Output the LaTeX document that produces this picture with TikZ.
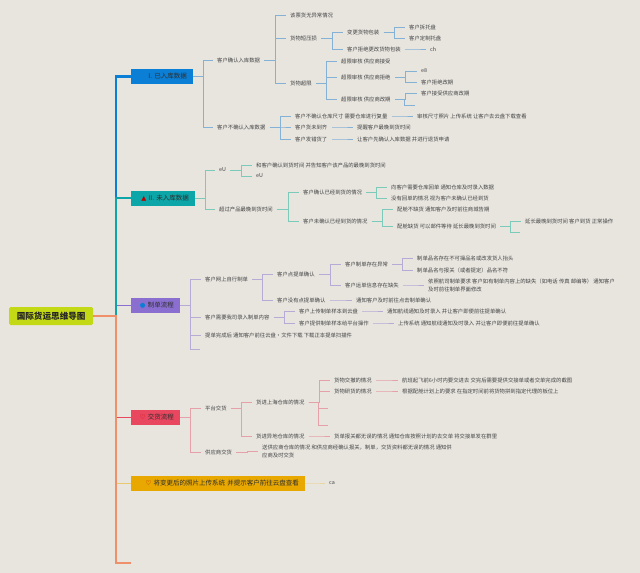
\documentclass[tikz,border=0pt]{standalone}
\usepackage{fontspec}
\setmainfont{Noto Sans CJK SC}
\newfontfamily\symf{DejaVu Sans}
\usetikzlibrary{calc}
\definecolor{bgc}{HTML}{E8E5DF}
\definecolor{txc}{HTML}{444444}
\definecolor{cblue}{HTML}{0B7FD6}
\definecolor{cteal}{HTML}{0CA5A8}
\definecolor{cpur}{HTML}{8A6FD0}
\definecolor{cred}{HTML}{E8475F}
\definecolor{cyel}{HTML}{E8A800}
\definecolor{corg}{HTML}{F0906A}
\definecolor{croot}{HTML}{C4D916}
\definecolor{lblue}{HTML}{84B2D6}
\definecolor{lteal}{HTML}{7CCAB9}
\definecolor{lpur}{HTML}{B6ABD6}
\definecolor{lred}{HTML}{E6A0A9}
\definecolor{lyel}{HTML}{E8D7A0}
\tikzset{
  tx/.style={anchor=west,xshift=-4pt,inner xsep=4pt,inner ysep=1pt,text=txc,font=\fontsize{5.35}{8}\selectfont,align=left},
  bx/.style={anchor=east,inner xsep=6pt,inner ysep=0pt,minimum height=15pt,align=right,text=black!82,font=\fontsize{6.5}{8}\selectfont},
  ln/.style={line width=.8pt},
  trunk/.style={line width=2.8pt,line join=miter},
  thinbr/.style={line width=1pt}
}
\newcommand\conn[3]{\draw[ln,#1] let \p1=(#2.east),\p2=(#3.west) in (\p1) -- ({(\x1+\x2)/2},\y1) -- ({(\x1+\x2)/2},\y2) -- (\p2);}
\newcommand\connf[3]{\draw[ln,#1] let \p1=(#2.east),\p2=(#3) in (\p1) -- ({(\x1+\x2)/2},\y1) -- ({(\x1+\x2)/2},\y2) -- (\p2);}
\newcommand\tn[4]{\node[tx] (#1) at (#2,#3) {#4};}
\begin{document}
\begin{tikzpicture}[x=1pt,y=-1pt]
\useasboundingbox (0,0) rectangle (640,573);
\fill[bgc] (0,0) rectangle (640,573);
% main boxes
\node[anchor=west,fill=croot,rounded corners=1.5pt,minimum width=84pt,minimum height=18pt,inner sep=0pt,text=black!85,font=\fontsize{8.6}{10}\selectfont\bfseries] (root) at (9,316) {国际货运思维导图};
\node[bx,fill=cblue,text width=50pt] (b1) at (193,76.5) {I. 已入库数据};
\node[bx,fill=cteal,text width=52pt] (b2) at (195,198) {{\symf\textcolor{red!75!black}{▲}} II. 未入库数据};
\node[bx,fill=cpur,text width=37pt] (b3) at (180,305) {{\symf\textcolor{cblue}{●}} 制单流程};
\node[bx,fill=cred,text width=37pt] (b4) at (180,417) {{\symf\textcolor{red!80!black}{♡}} 交货流程};
\node[bx,fill=cyel,text width=162pt] (b5) at (305,483) {{\symf\textcolor{red!70!black}{♡}} 将变更后的照片上传系统 并提示客户前往云盘查看};
\coordinate (stub) at (131,563);
% trunk
\draw[thinbr,cpur] (root.east) -- (116,316) |- (b3.west);
\draw[trunk,cblue] (root.east) -- (116,316) |- (b1.west);
\draw[trunk,cteal] (root.east) -- (116,316) |- (b2.west);
\draw[thinbr,cred] (root.east) -- (116,316) |- (b4.west);
\draw[thinbr,lyel!70!cyel] (root.east) -- (116,316) |- (b5.west);
\draw[trunk,corg] (root.east) -- (116,316) |- (stub);
% section 1
\tn{a1}{217}{60}{客户确认入库数据}
\tn{a2}{217}{127}{客户不确认入库数据}
\tn{a11}{290}{15}{该票货无异常情况}
\tn{a12}{290}{38}{货物短压损}
\tn{a13}{290}{83}{货物超限}
\tn{a121}{347}{32}{变更货物包装}
\tn{a122}{347}{49}{客户拒绝更改货物包装}
\tn{a1211}{409}{27}{客户拆托盘}
\tn{a1212}{409}{38}{客户定制托盘}
\tn{a1221}{430}{49}{ch}
\tn{a131}{341}{61}{超限审核 供应商接受}
\tn{a132}{341}{77}{超限审核 供应商拒绝}
\tn{a133}{341}{99}{超限审核 供应商改期}
\tn{a1321}{421}{71}{e8}
\tn{a1322}{421}{82}{客户拒绝改期}
\tn{a1331}{421}{93}{客户接受供应商改期}
\coordinate (a1332) at (415,105);
\tn{a21}{295}{116}{客户不确认仓库尺寸 需要仓库进行复量}
\tn{a22}{295}{127}{客户货未到齐}
\tn{a23}{295}{139}{客户发错货了}
\tn{a211}{417}{116}{审核尺寸照片 上传系统 让客户去云盘下载查看}
\tn{a221}{357}{127}{提醒客户最晚到货时间}
\tn{a231}{357}{139}{让客户先确认入库数据 并进行退货申请}
\foreach \pa/\ch in {b1/a1,b1/a2,a1/a11,a1/a12,a1/a13,a12/a121,a12/a122,a121/a1211,a121/a1212,a122/a1221,a13/a131,a13/a132,a13/a133,a132/a1321,a132/a1322,a133/a1331,a2/a21,a2/a22,a2/a23,a21/a211,a22/a221,a23/a231}{\conn{lblue}{\pa}{\ch}}
\connf{lblue}{a133}{a1332}
% section 2
\tn{c1}{219}{170}{eU}
\tn{c2}{219}{209}{超过产品最晚到货时间}
\tn{c11}{256}{165}{和客户确认到货时间 并告知客户该产品的最晚到货时间}
\tn{c12}{256}{176}{eU}
\tn{c21}{303}{192}{客户确认已经到货的情况}
\tn{c22}{303}{221}{客户未确认已经到货的情况}
\tn{c211}{391}{187}{向客户需要仓库回单 通知仓库及时录入数据}
\tn{c212}{391}{198}{没有回单的情况 视为客户未确认已经到货}
\tn{c221}{397}{209}{配舱不缺货 通知客户及时前往商城告期}
\tn{c222}{397}{226}{配舱缺货 可以邮件等待 延长最晚到货时间}
\tn{c2221}{525}{221}{延长最晚到货时间 客户到货 正常操作}
\coordinate (c2222) at (520,232);
\foreach \pa/\ch in {b2/c1,b2/c2,c1/c11,c1/c12,c2/c21,c2/c22,c21/c211,c21/c212,c22/c221,c22/c222,c222/c2221}{\conn{lteal}{\pa}{\ch}}
\connf{lteal}{c222}{c2222}
% section 3
\tn{d1}{205}{279}{客户网上自行制单}
\tn{d2}{205}{317}{客户需要我司录入制单内容}
\tn{d3}{205}{335}{提单完成后 通知客户前往云盘·文件下载 下载正本提单扫描件}
\coordinate (d4) at (200,349);
\tn{d11}{277}{274}{客户点提单确认}
\tn{d12}{277}{300}{客户没有点提单确认}
\tn{d111}{345}{264}{客户制单存在异常}
\tn{d112}{345}{285}{客户运单信息存在缺失}
\tn{d121}{356}{300}{通知客户及时前往点击制单确认}
\tn{d1111}{417}{258}{制单品名存在不可操品名或改发货人抬头}
\tn{d1112}{417}{270}{制单品名与报关（或者提定）品名不符}
\tn{d1121}{428}{285}{依照航司制单要求 客户如有制单内容上的缺失（如电话 传真 邮编等） 通知客户\\及时前往制单界面修改}
\tn{d21}{299}{311}{客户上传制单样本到云盘}
\tn{d22}{299}{323}{客户提供制单样本给平台操作}
\tn{d211}{387}{311}{通知航线通知及时录入 并让客户即便前往提单确认}
\tn{d221}{398}{323}{上传系统 通知航线通知及时录入 并让客户即便前往提单确认}
\foreach \pa/\ch in {b3/d1,b3/d2,b3/d3,d1/d11,d1/d12,d11/d111,d11/d112,d12/d121,d111/d1111,d111/d1112,d112/d1121,d2/d21,d2/d22,d21/d211,d22/d221}{\conn{lpur}{\pa}{\ch}}
\connf{lpur}{b3}{d4}
% section 4
\tn{e1}{205}{408}{平台交货}
\tn{e2}{205}{452}{供应商交货}
\tn{e11}{256}{402}{货进上海仓库的情况}
\tn{e12}{256}{436}{货进异地仓库的情况}
\tn{e111}{334}{380}{货物交撤的情况}
\tn{e112}{334}{391}{货物研货的情况}
\coordinate (e113) at (328,408);
\coordinate (e114) at (328,425);
\tn{e1111}{402}{380}{航班起飞前6小时内要交进去 交完后需要提供交接单或者交单完成的截图}
\tn{e1121}{402}{391}{根据配舱计划上的要求 在指定时间前将货物拼到指定代理的板位上}
\tn{e121}{334}{436}{货单报关都无误的情况 通知仓库按照计划的去交单 将交接单发在群里}
\tn{e21}{262}{451}{送供应商仓库的情况 和供应商经确认报关，制单，交货资料都无误的情况 通知供\\应商及时交货}
\foreach \pa/\ch in {b4/e1,b4/e2,e1/e11,e1/e12,e11/e111,e11/e112,e111/e1111,e112/e1121,e12/e121,e2/e21}{\conn{lred}{\pa}{\ch}}
\connf{lred}{e11}{e113}
\connf{lred}{e11}{e114}
% section 5
\tn{f1}{329}{483}{ca}
\conn{lyel}{b5}{f1}
\end{tikzpicture}
\end{document}
